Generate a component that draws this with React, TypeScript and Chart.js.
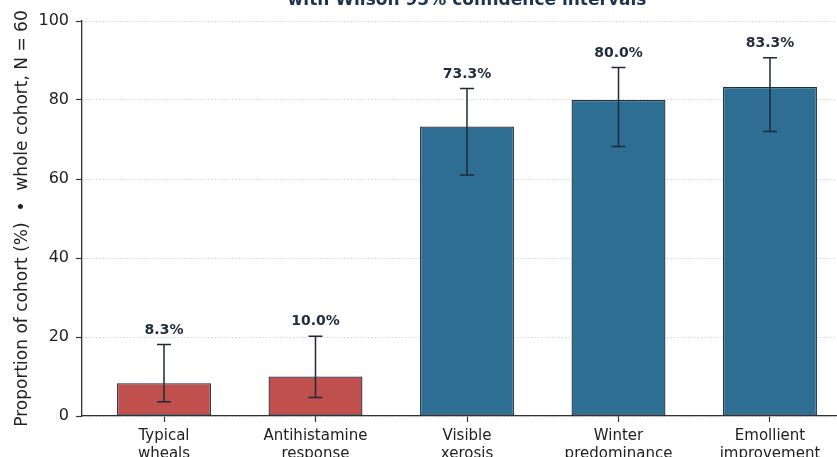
import React, { useEffect, useRef } from "react";
import { Chart, registerables } from "chart.js";

Chart.register(...registerables);

// ---- data ----
const categoryLines: string[][] = [
  ["Typical", "wheals"],
  ["Antihistamine", "response"],
  ["Visible", "xerosis"],
  ["Winter", "predominance"],
  ["Emollient", "improvement"],
];
const proportions = [8.3, 10.0, 73.3, 80.0, 83.3];
const ciLower = [3.6, 4.7, 61.0, 68.2, 72.0];
const ciUpper = [18.1, 20.2, 82.9, 88.2, 90.7];
const yTickValues = [0, 20, 40, 60, 80, 100];
const titleText = "with Wilson 95% confidence intervals";
const yAxisTitle = "Proportion of cohort (%)  \u2022  whole cohort, N = 60";

const RED = "#c0504d";
const BLUE = "#2e6e93";
const EDGE = "#1f2f3f";
const DARK = "#1d2b38";
const FONT = "'DejaVu Sans', sans-serif";

const CANVAS_W = 880;
const CANVAS_H = 480;

const errorBarPlugin = {
  id: "errorBarsAndLabels",
  afterDatasetsDraw(chart: any) {
    const { ctx } = chart;
    const y = chart.scales.y;
    const meta = chart.getDatasetMeta(0);
    ctx.save();
    meta.data.forEach((bar: any, i: number) => {
      const cx = bar.x;
      const yLo = y.getPixelForValue(ciLower[i]);
      const yHi = y.getPixelForValue(ciUpper[i]);
      ctx.strokeStyle = DARK;
      ctx.lineWidth = 1.5;
      ctx.beginPath();
      ctx.moveTo(cx, yLo);
      ctx.lineTo(cx, yHi);
      ctx.moveTo(cx - 7, yLo);
      ctx.lineTo(cx + 7, yLo);
      ctx.moveTo(cx - 7, yHi);
      ctx.lineTo(cx + 7, yHi);
      ctx.stroke();
      ctx.fillStyle = "#1f2d3d";
      ctx.font = `bold 14px ${FONT}`;
      ctx.textAlign = "center";
      ctx.textBaseline = "alphabetic";
      ctx.fillText(proportions[i].toFixed(1) + "%", cx, yHi - 11);
    });
    ctx.restore();
  },
};

export default function App() {
  const canvasRef = useRef<HTMLCanvasElement | null>(null);

  useEffect(() => {
    if (!canvasRef.current) return;
    const chart = new Chart(canvasRef.current, {
      type: "bar",
      data: {
        datasets: [
          {
            data: proportions.map((v, i) => ({ x: i, y: v })),
            backgroundColor: proportions.map((_, i) => (i < 2 ? RED : BLUE)),
            borderColor: EDGE,
            borderWidth: 1.3,
            borderSkipped: false,
            categoryPercentage: 1,
            barPercentage: 0.62,
          } as any,
        ],
      },
      options: {
        responsive: false,
        devicePixelRatio: 1,
        animation: false,
        layout: { padding: { left: 0, right: CANVAS_W - 852, top: 0, bottom: 0 } },
        plugins: {
          legend: { display: false },
          tooltip: { enabled: false },
          title: {
            display: true,
            text: titleText,
            fullSize: false,
            color: "#1e3450",
            font: { family: FONT, size: 17, weight: "bold", lineHeight: 1.2 },
            padding: { top: 0, bottom: 10.6 },
          },
        },
        scales: {
          x: {
            type: "linear",
            offset: false,
            min: -0.5413,
            max: 4.5413,
            afterBuildTicks: (scale: any) => {
              scale.ticks = categoryLines.map((_, i) => ({ value: i }));
            },
            afterFit: (scale: any) => {
              scale.height = CANVAS_H - 426;
            },
            ticks: {
              autoSkip: false,
              maxRotation: 0,
              padding: 5,
              color: "#222222",
              font: { family: FONT, size: 15, lineHeight: 1.2 },
              callback: (v: any) => categoryLines[Math.round(Number(v))] ?? "",
            },
            grid: {
              offset: false,
              drawOnChartArea: false,
              drawTicks: true,
              tickLength: 6,
              tickColor: "#333333",
              tickWidth: 1.2,
            },
            border: { display: true, color: "#333333", width: 1.3 },
          },
          y: {
            min: 0,
            max: 100,
            afterBuildTicks: (scale: any) => {
              scale.ticks = yTickValues.map((v) => ({ value: v }));
            },
            afterFit: (scale: any) => {
              scale.width = 82;
            },
            ticks: {
              padding: 7,
              color: "#222222",
              font: { family: FONT, size: 16 },
            },
            grid: {
              display: true,
              color: "#c0c0c0",
              lineWidth: 0.8,
              drawTicks: true,
              tickLength: 6,
              tickColor: "#333333",
              tickWidth: 1.2,
            },
            border: { display: true, color: "#333333", width: 1.3, dash: [1.2, 2.2] },
            title: {
              display: true,
              text: yAxisTitle,
              color: "#222222",
              font: { family: FONT, size: 17, lineHeight: 1.2 },
              padding: { top: 12.6, bottom: 0 },
            },
          },
        },
      } as any,
      plugins: [errorBarPlugin],
    });
    return () => chart.destroy();
  }, []);

  return (
    <div
      style={{
        position: "absolute",
        left: 0,
        top: 0,
        width: 837,
        height: 457,
        overflow: "hidden",
        background: "#ffffff",
      }}
    >
      <canvas
        ref={canvasRef}
        width={CANVAS_W}
        height={CANVAS_H}
        style={{ position: "absolute", left: 0, top: -10, width: CANVAS_W, height: CANVAS_H }}
      />
    </div>
  );
}
